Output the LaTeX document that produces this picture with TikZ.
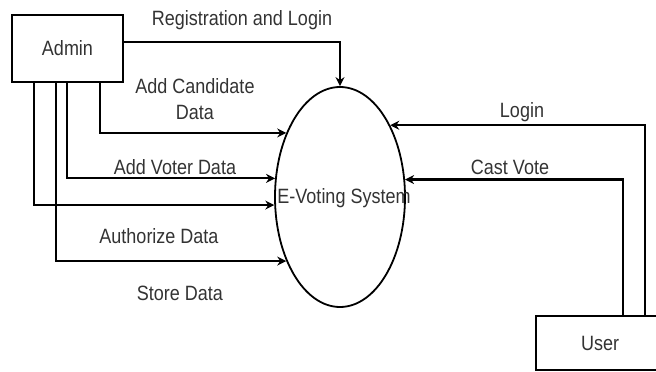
\documentclass[tikz,border=0pt]{standalone}
\usepackage{fontspec}
\setmainfont{Liberation Sans}
\usetikzlibrary{shapes.geometric,arrows.meta}
\newcommand{\vst}[1]{\scalebox{1}[1.15]{#1}}
\tikzset{
  box/.style={draw=black, line width=2pt, fill=white, rectangle, inner sep=0pt, font=\fontsize{18}{20}\selectfont, text=black!80},
  proc/.style={draw=black, line width=1.8pt, ellipse, inner sep=0pt, minimum width=130pt, minimum height=220pt},
  lbl/.style={font=\fontsize{18}{26}\selectfont, text=black!80, inner sep=0pt, align=center},
  flow/.style={line width=2.2pt, -{Stealth[length=9pt,width=9pt]}},
}
\begin{document}
\begin{tikzpicture}[x=1pt,y=-1pt]
\useasboundingbox (0,0) rectangle (656,372);
\clip (0,0) rectangle (656,372);
\node[box, minimum width=111pt, minimum height=67pt] (admin) at (67.5,48.5) {\vst{Admin}};
\node[proc] (sys) at (340,197) {};
\node[lbl] (systxt) at (344,198) {\vst{E-Voting System}};
\node[box, minimum width=128pt, minimum height=54pt] (user) at (600,343) {\vst{User}};

\draw[flow] ([yshift=6.5pt]admin.east) -| (sys.north);
\draw[flow] ([xshift=32.5pt]admin.south) |- (sys.130.9);
\draw[flow] ([xshift=-0.5pt]admin.south) |- (sys.164.3);
\draw[flow] ([xshift=-33.5pt]admin.south) |- (sys.187.9);
\draw[flow] ([xshift=-11.5pt]admin.south) |- (sys.230.4);
\draw[flow] ([xshift=45pt]user.north) |- (sys.55.7);
\draw[flow] ([xshift=23pt]user.north) |- (sys.15.7);

\node[lbl] (l1) at (242,20) {\vst{Registration and Login}};
\node[lbl] (l2) at (195,99) {\vst{Add Candidate}\\\vst{Data}};
\node[lbl] (l3) at (175,167) {\vst{Add Voter Data}};
\node[lbl] (l4) at (159,236) {\vst{Authorize Data}};
\node[lbl] (l5) at (180,293) {\vst{Store Data}};
\node[lbl] (l6) at (522,112) {\vst{Login}};
\node[lbl] (l7) at (510,167) {\vst{Cast Vote}};
\end{tikzpicture}
\end{document}
